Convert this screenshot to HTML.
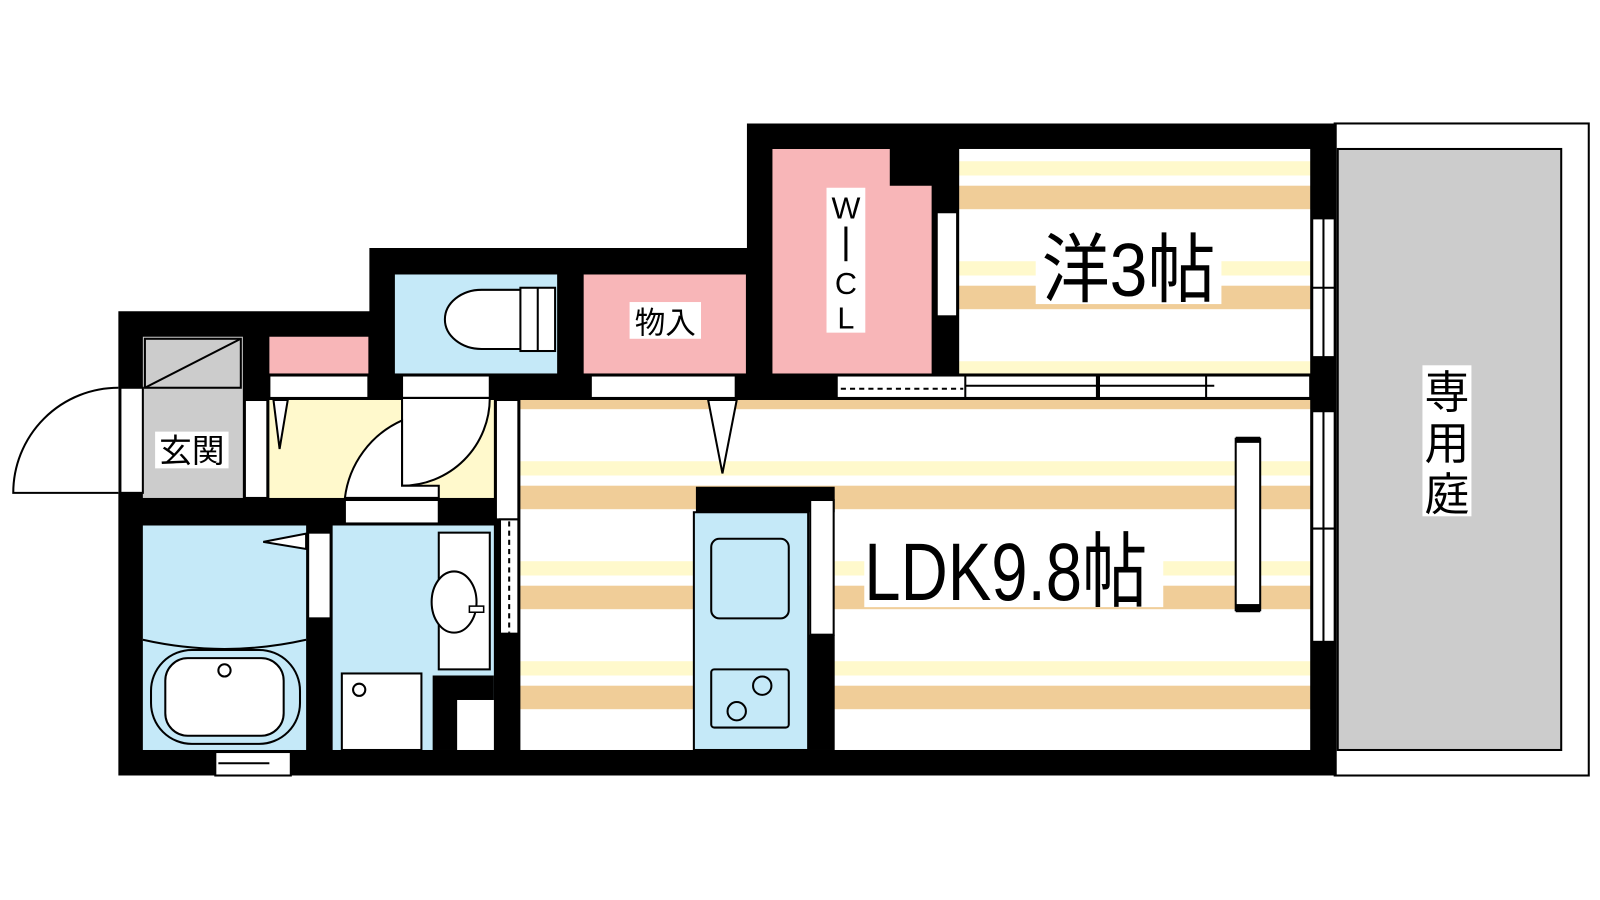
<!DOCTYPE html>
<html><head><meta charset="utf-8"><style>
html,body{margin:0;padding:0;background:#fff;}
svg{display:block;}
text{font-family:"Liberation Sans","Noto Sans CJK JP",sans-serif;}
</style></head><body>
<svg width="1600" height="900" viewBox="0 0 1600 900" xmlns="http://www.w3.org/2000/svg">
<defs>
<pattern id="st" x="0" y="60" width="200" height="98" patternUnits="userSpaceOnUse">
<rect width="200" height="98" fill="#fff"/>
<rect y="0" width="200" height="14" fill="#fff9cc"/>
<rect y="24" width="200" height="23" fill="#f0cd98"/>
</pattern>
</defs>
<g transform="scale(1.0204)">
<!-- yard -->
<rect x="1308" y="121" width="249" height="639" fill="#fff" stroke="#000" stroke-width="2"/>
<rect x="1311" y="146" width="219" height="589" fill="#ccc" stroke="#000" stroke-width="2"/>
<!-- outline -->
<polygon points="116,305 362,305 362,243 732,243 732,121 1310,121 1310,760 116,760" fill="#000"/>
<!-- genkan -->
<rect x="140" y="330" width="98" height="158" fill="#ccc"/>
<rect x="142" y="332" width="94" height="48" fill="none" stroke="#000" stroke-width="2"/>
<line x1="142" y1="380" x2="236" y2="332" stroke="#000" stroke-width="2"/>
<rect x="118" y="380" width="22" height="103" fill="#fff" stroke="#000" stroke-width="2"/>
<path d="M116,483 L13,483 A103,103 0 0 1 116,380" fill="#fff" stroke="#000" stroke-width="2"/>
<rect x="240" y="392" width="22" height="96" fill="#fff" stroke="#000" stroke-width="2"/>
<!-- small pink -->
<rect x="264" y="330" width="97" height="36" fill="#f8b6b8"/>
<rect x="264" y="368" width="97" height="22" fill="#fff" stroke="#000" stroke-width="2"/>
<!-- hallway -->
<rect x="264" y="392" width="220" height="96" fill="#fff9cc"/>
<polygon points="268,392 282,392 274,440" fill="#fff" stroke="#000" stroke-width="2"/>
<rect x="394" y="368" width="86" height="22" fill="#fff" stroke="#000" stroke-width="2"/>
<path d="M394,390 L394,476 A86,86 0 0 0 480,390 Z" fill="#fff" stroke="#000" stroke-width="2"/>
<path d="M394,412 A96,96 0 0 0 338,488 L430,488 L430,476 L394,476 Z" fill="#fff" stroke="#000" stroke-width="2"/>
<rect x="338" y="490" width="92" height="23" fill="#fff" stroke="#000" stroke-width="2"/>
<!-- toilet -->
<rect x="387" y="269" width="159" height="97" fill="#c5e9f8"/>
<path d="M520,284 L472,284 A36,29 0 0 0 472,342 L520,342 Z" fill="#fff" stroke="#000" stroke-width="2"/>
<rect x="510" y="282" width="34" height="62" fill="#fff" stroke="#000" stroke-width="2"/>
<line x1="527" y1="282" x2="527" y2="344" stroke="#000" stroke-width="2"/>
<!-- monoire -->
<rect x="572" y="269" width="159" height="97" fill="#f8b6b8"/>
<rect x="579" y="368" width="142" height="22" fill="#fff" stroke="#000" stroke-width="2"/>
<rect x="617" y="296" width="70" height="36" fill="#fff"/>
<text x="652" y="327" font-size="30" text-anchor="middle">物入</text>
<!-- WIC -->
<polygon points="757,146 872,146 872,182 913,182 913,366 757,366" fill="#f8b6b8"/>
<rect x="918" y="208" width="20" height="102" fill="#fff" stroke="#000" stroke-width="2"/>
<polygon points="940,208 992,218 940,228" fill="#fff" stroke="#000" stroke-width="2"/>
<rect x="810" y="184" width="38" height="142" fill="#fff"/>
<text x="829" y="214" font-size="30" text-anchor="middle">W</text>
<line x1="829" y1="222" x2="829" y2="256" stroke="#000" stroke-width="3"/>
<text x="829" y="288" font-size="30" text-anchor="middle">C</text>
<text x="829" y="322" font-size="30" text-anchor="middle">L</text>
<!-- western room -->
<rect x="940" y="146" width="344" height="220" fill="url(#st)"/>
<rect x="1015" y="228" width="182" height="70" fill="#fff"/>
<text x="0" y="0" font-size="74" text-anchor="middle" transform="translate(1106,290) scale(0.9,1)">洋3帖</text>
<!-- sliding doors -->
<rect x="820" y="368" width="464" height="22" fill="#fff" stroke="#000" stroke-width="2"/>
<line x1="946" y1="368" x2="946" y2="390" stroke="#000" stroke-width="2"/>
<line x1="1076" y1="368" x2="1076" y2="390" stroke="#000" stroke-width="4"/>
<line x1="1182" y1="368" x2="1182" y2="390" stroke="#000" stroke-width="2"/>
<line x1="824" y1="381" x2="944" y2="381" stroke="#000" stroke-width="2" stroke-dasharray="5,4"/>
<line x1="946" y1="378" x2="1076" y2="378" stroke="#000" stroke-width="2"/>
<line x1="1078" y1="378" x2="1190" y2="378" stroke="#000" stroke-width="2"/>
<!-- LDK -->
<rect x="510" y="392" width="774" height="343" fill="url(#st)"/>
<polygon points="694,392 722,392 708,464" fill="#fff" stroke="#000" stroke-width="2"/>
<rect x="486" y="392" width="22" height="117" fill="#fff" stroke="#000" stroke-width="2"/>
<rect x="490" y="509" width="18" height="112" fill="#fff" stroke="#000" stroke-width="2"/>
<line x1="499" y1="511" x2="499" y2="620" stroke="#000" stroke-width="2" stroke-dasharray="5,4"/>
<rect x="682" y="477" width="136" height="25" fill="#000"/>
<rect x="680" y="502" width="112" height="233" fill="#c5e9f8" stroke="#000" stroke-width="2"/>
<rect x="697" y="528" width="76" height="78" rx="8" fill="#c5e9f8" stroke="#000" stroke-width="2"/>
<rect x="697" y="656" width="76" height="57" rx="3" fill="#c5e9f8" stroke="#000" stroke-width="2"/>
<circle cx="747" cy="672" r="9" fill="none" stroke="#000" stroke-width="2"/>
<circle cx="722" cy="697" r="9" fill="none" stroke="#000" stroke-width="2"/>
<rect x="794" y="490" width="23" height="132" fill="#fff" stroke="#000" stroke-width="2"/>
<rect x="792" y="622" width="26" height="113" fill="#000"/>
<rect x="1211" y="430" width="24" height="168" fill="#fff" stroke="#000" stroke-width="2"/>
<rect x="1211" y="428" width="24" height="6" fill="#000"/>
<rect x="1211" y="592" width="24" height="8" fill="#000"/>
<rect x="847" y="528" width="293" height="67" fill="#fff"/>
<text x="0" y="0" font-size="80" transform="translate(847,588) scale(0.8,1)">LDK9.8帖</text>
<!-- right windows -->
<rect x="1286" y="214" width="22" height="136" fill="#fff" stroke="#000" stroke-width="2"/>
<line x1="1297" y1="214" x2="1297" y2="350" stroke="#000" stroke-width="2"/>
<line x1="1286" y1="282" x2="1308" y2="282" stroke="#000" stroke-width="2"/>
<rect x="1286" y="403" width="22" height="226" fill="#fff" stroke="#000" stroke-width="2"/>
<line x1="1297" y1="403" x2="1297" y2="629" stroke="#000" stroke-width="2"/>
<line x1="1286" y1="518" x2="1308" y2="518" stroke="#000" stroke-width="2"/>
<!-- bathroom -->
<rect x="140" y="515" width="160" height="220" fill="#c5e9f8"/>
<path d="M140,627 Q220,645 300,627" fill="none" stroke="#000" stroke-width="2"/>
<rect x="148" y="637" width="146" height="92" rx="40" fill="#c5e9f8" stroke="#000" stroke-width="2"/>
<rect x="162" y="645" width="116" height="76" rx="22" fill="#fff" stroke="#000" stroke-width="2"/>
<circle cx="220" cy="657" r="6" fill="#fff" stroke="#000" stroke-width="2"/>
<rect x="302" y="522" width="22" height="84" fill="#fff" stroke="#000" stroke-width="2"/>
<polygon points="300,523 258,531 300,538" fill="#fff" stroke="#000" stroke-width="2"/>
<rect x="211" y="737" width="74" height="23" fill="#fff" stroke="#000" stroke-width="2"/>
<line x1="214" y1="748" x2="264" y2="748" stroke="#000" stroke-width="2"/>
<!-- washroom -->
<rect x="326" y="515" width="158" height="220" fill="#c5e9f8"/>
<rect x="430" y="522" width="50" height="134" fill="#fff" stroke="#000" stroke-width="2"/>
<ellipse cx="445" cy="590" rx="22" ry="30" fill="#fff" stroke="#000" stroke-width="2"/>
<rect x="460" y="594" width="14" height="6" fill="#fff" stroke="#000" stroke-width="1.5"/>
<rect x="335" y="660" width="78" height="75" fill="#fff" stroke="#000" stroke-width="2"/>
<circle cx="352" cy="676" r="6" fill="#fff" stroke="#000" stroke-width="2"/>
<rect x="424" y="662" width="60" height="73" fill="#000"/>
<rect x="448" y="686" width="36" height="49" fill="#fff"/>
<!-- labels -->
<rect x="152" y="423" width="72" height="36" fill="#fff"/>
<text x="188" y="453" font-size="32" text-anchor="middle">玄関</text>
<rect x="1394" y="358" width="48" height="148" fill="#fff"/>
<text x="1418" y="400" font-size="44" text-anchor="middle">専</text>
<text x="1418" y="450" font-size="44" text-anchor="middle">用</text>
<text x="1418" y="500" font-size="44" text-anchor="middle">庭</text>
</g>
</svg>
</body></html>
